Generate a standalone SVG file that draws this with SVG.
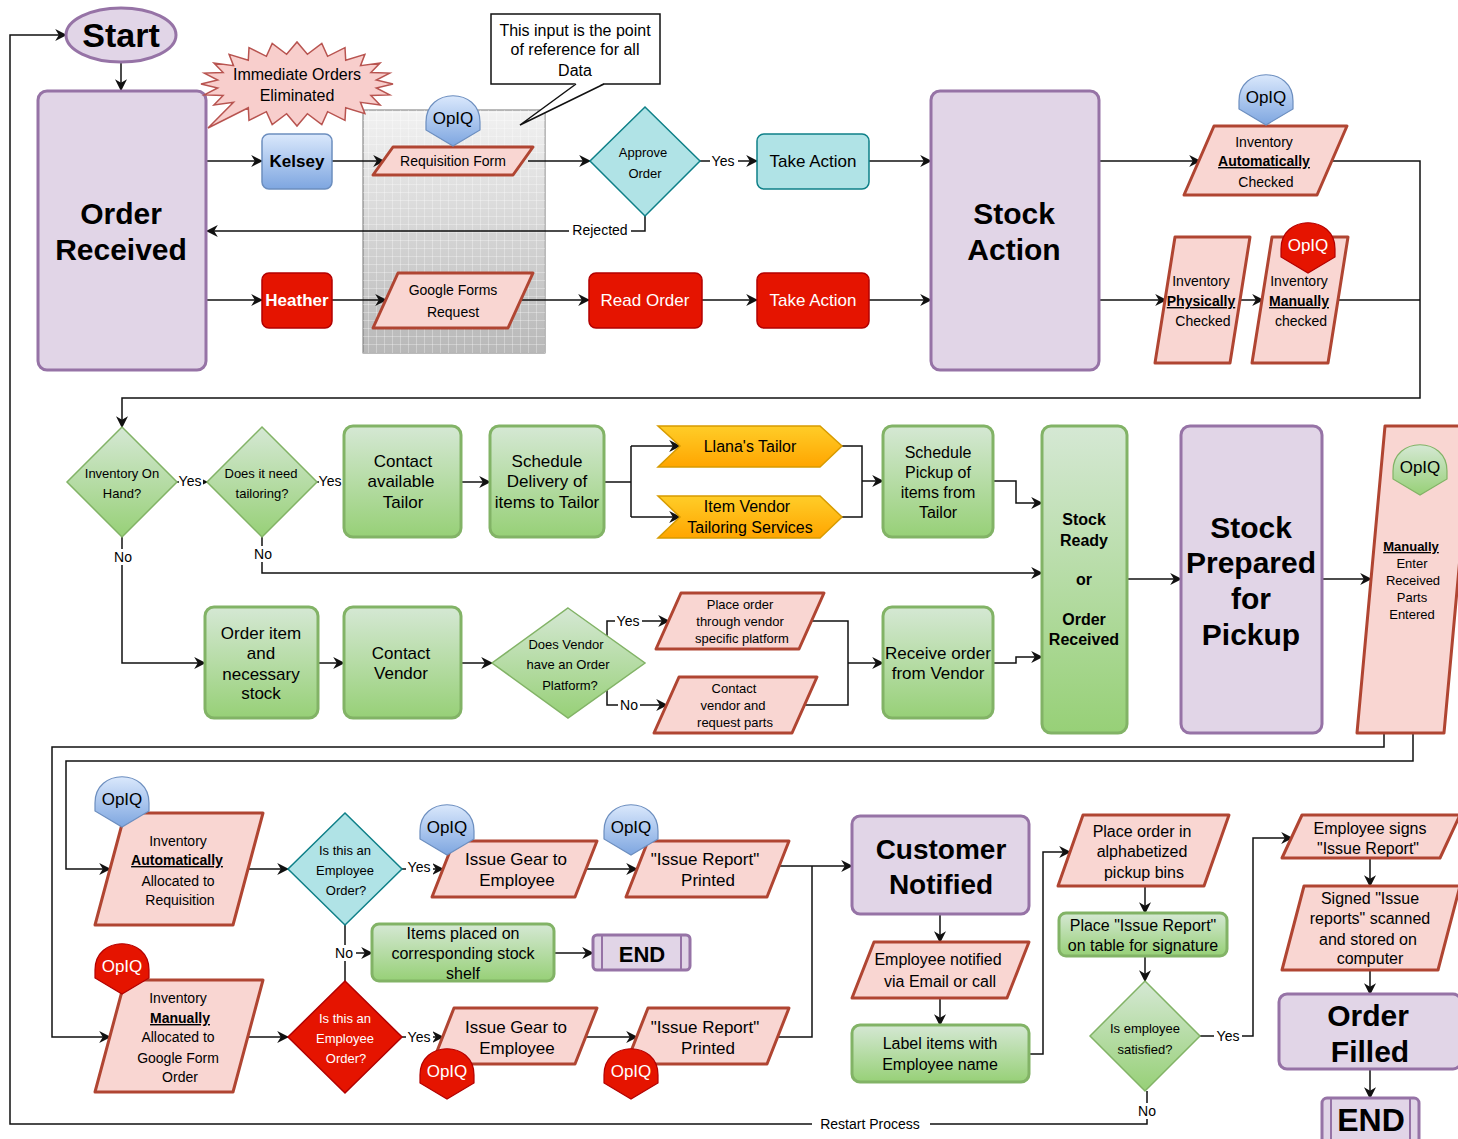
<svg xmlns="http://www.w3.org/2000/svg" xmlns:xlink="http://www.w3.org/1999/xlink" width="1458" height="1139" viewBox="0 0 1458 1139">
<defs>
<style>
.t{font-family:"Liberation Sans",Arial,sans-serif;text-anchor:middle;fill:#000}
.b{font-weight:bold}
.w{fill:#fff}
.u{text-decoration:underline;font-weight:bold}
.s13{font-size:13px}.s14{font-size:14px}.s16{font-size:16px}.s17{font-size:17px}.s22{font-size:22px}.s28{font-size:28px}.s30{font-size:30px}.s32{font-size:32px}.s34{font-size:34px}
.pur{fill:#e1d5e7;stroke:#9673a6;stroke-width:3}
.pink{fill:#f9d6d2;stroke:#b04532;stroke-width:3;stroke-linejoin:round}
.grn{fill:url(#gGreen);stroke:#82b366;stroke-width:3}
.teal{fill:#b0e3e6;stroke:#0e8088;stroke-width:1.5}
.red{fill:#e51400;stroke:#b20000;stroke-width:1.5}
.blue{fill:url(#gBlue);stroke:#6c8ebf;stroke-width:1.5}
.org{fill:url(#gOrange);stroke:#d79b00;stroke-width:1.5}
.bdB{fill:url(#gBlue);stroke:#6c8ebf;stroke-width:1.2}
.bdR{fill:#e51400;stroke:#b20000;stroke-width:1.2}
.bdG{fill:url(#gGreen);stroke:#82b366;stroke-width:1.2}
.c{fill:none;stroke:#111;stroke-width:1.5}
.ca{fill:none;stroke:#111;stroke-width:1.5;marker-end:url(#ar)}
.lb{fill:#fff}
</style>
<linearGradient id="gGreen" x1="0" y1="0" x2="0" y2="1"><stop offset="0" stop-color="#d5e8d4"/><stop offset="1" stop-color="#97d077"/></linearGradient>
<linearGradient id="gBlue" x1="0" y1="0" x2="0" y2="1"><stop offset="0" stop-color="#dae8fc"/><stop offset="1" stop-color="#7ea6e0"/></linearGradient>
<linearGradient id="gOrange" x1="0" y1="0" x2="0" y2="1"><stop offset="0" stop-color="#ffcd28"/><stop offset="1" stop-color="#ffa500"/></linearGradient>
<linearGradient id="gGray" x1="0" y1="0" x2="0" y2="1"><stop offset="0" stop-color="#f2f2f2"/><stop offset="1" stop-color="#b8b8b8"/></linearGradient>
<pattern id="grid" width="8" height="8" patternUnits="userSpaceOnUse"><path d="M8,0 L0,0 0,8" fill="none" stroke="#ffffff" stroke-opacity="0.6" stroke-width="1"/></pattern>
<marker id="ar" viewBox="0 0 10 10" refX="9" refY="5" markerWidth="12" markerHeight="12" markerUnits="userSpaceOnUse" orient="auto"><path d="M0,0 L10,5 L0,10 L3,5 Z" fill="#111"/></marker>
<path id="badge" d="M-27,4 C-27,-31 27,-31 27,4 L27,12 L0,28 L-27,12 Z"/>
</defs>
<rect width="1458" height="1139" fill="#fff"/>

<g id="grid-box">
<rect x="363" y="110" width="182" height="243" fill="url(#gGray)" stroke="#777" stroke-width="1"/>
<rect x="363" y="110" width="182" height="243" fill="url(#grid)"/>
</g>

<g id="connectors">
<path class="ca" d="M121,62 V90"/>
<path class="ca" d="M206,161 H262"/>
<path class="ca" d="M332,161 H384"/>
<path class="ca" d="M528,161 H590"/>
<path class="ca" d="M700,161 H757"/>
<path class="ca" d="M869,161 H931"/>
<path class="ca" d="M645,216 V231 H207"/>
<path class="ca" d="M206,300 H262"/>
<path class="ca" d="M332,300 H386"/>
<path class="ca" d="M521,300 H589"/>
<path class="ca" d="M702,300 H757"/>
<path class="ca" d="M869,300 H931"/>
<path class="ca" d="M1099,161 H1200"/>
<path class="ca" d="M1099,300 H1166"/>
<path class="ca" d="M1240,300 H1263"/>
<path class="ca" d="M1333,161 H1420 V398 H122 V427"/>
<path class="c" d="M1338,300 H1420"/>
<path class="ca" d="M177,482 H207"/>
<path class="ca" d="M317,482 H344"/>
<path class="ca" d="M461,482 H490"/>
<path class="c" d="M604,482 H631 M631,446 V517"/>
<path class="ca" d="M631,446 H680"/>
<path class="ca" d="M631,517 H680"/>
<path class="c" d="M842,446 H862 V517 H842"/>
<path class="ca" d="M862,481 H883"/>
<path class="ca" d="M993,481 H1016 V503 H1042"/>
<path class="ca" d="M262,537 V573 H1042"/>
<path class="ca" d="M122,537 V663 H205"/>
<path class="ca" d="M318,663 H344"/>
<path class="ca" d="M461,663 H492"/>
<path class="ca" d="M607,640 V621 H669"/>
<path class="ca" d="M607,686 V705 H667"/>
<path class="c" d="M812,621 H848 V705 H805"/>
<path class="ca" d="M848,663 H883"/>
<path class="ca" d="M993,663 H1016 V657 H1042"/>
<path class="ca" d="M1127,579 H1181"/>
<path class="ca" d="M1322,579 H1371"/>
<path class="ca" d="M1384,733 V747 H52 V1037 H110"/>
<path class="ca" d="M1413,733 V761 H66 V869 H110"/>
<path class="ca" d="M248,869 H288"/>
<path class="ca" d="M248,1037 H288"/>
<path class="ca" d="M402,869 H443"/>
<path class="ca" d="M402,1037 H443"/>
<path class="ca" d="M586,869 H637"/>
<path class="ca" d="M586,1037 H637"/>
<path class="ca" d="M778,866 H852"/>
<path class="c" d="M778,1037 H812 V866"/>
<path class="c" d="M345,925 V981"/>
<path class="ca" d="M345,953 H372"/>
<path class="ca" d="M554,953 H593"/>
<path class="ca" d="M940,914 V942"/>
<path class="ca" d="M940,998 V1025"/>
<path class="ca" d="M1029,1054 H1043 V852 H1070"/>
<path class="ca" d="M1145,886 V913"/>
<path class="ca" d="M1145,956 V981"/>
<path class="ca" d="M1200,1036 H1253 V838 H1292"/>
<path class="ca" d="M1370,858 V886"/>
<path class="ca" d="M1370,970 V994"/>
<path class="ca" d="M1370,1069 V1098"/>
<path class="ca" d="M1147,1091 V1124 H10 V35 H66"/>
<rect class="lb" x="710" y="153" width="28" height="16"/><text class="t s14" x="723" y="166">Yes</text>
<rect class="lb" x="569" y="222" width="62" height="16"/><text class="t s14" x="600" y="235">Rejected</text>
<rect class="lb" x="179" y="474" width="24" height="16"/><text class="t s14" x="190" y="486">Yes</text>
<rect class="lb" x="319" y="474" width="24" height="16"/><text class="t s14" x="330" y="486">Yes</text>
<rect class="lb" x="112" y="549" width="22" height="16"/><text class="t s14" x="123" y="562">No</text>
<rect class="lb" x="252" y="546" width="22" height="16"/><text class="t s14" x="263" y="559">No</text>
<rect class="lb" x="615" y="613" width="27" height="16"/><text class="t s14" x="628" y="626">Yes</text>
<rect class="lb" x="618" y="697" width="22" height="16"/><text class="t s14" x="629" y="710">No</text>
<rect class="lb" x="406" y="860" width="27" height="16"/><text class="t s14" x="419" y="872">Yes</text>
<rect class="lb" x="406" y="1030" width="27" height="16"/><text class="t s14" x="419" y="1042">Yes</text>
<rect class="lb" x="332" y="945" width="24" height="16"/><text class="t s14" x="344" y="958">No</text>
<rect class="lb" x="1214" y="1028" width="28" height="16"/><text class="t s14" x="1228" y="1041">Yes</text>
<rect class="lb" x="1136" y="1103" width="22" height="16"/><text class="t s14" x="1147" y="1116">No</text>
<rect class="lb" x="812" y="1116" width="118" height="16"/><text class="t s14" x="870" y="1129">Restart Process</text>
</g>

<g id="start">
<ellipse class="pur" cx="121" cy="35" rx="55" ry="27"/>
<text class="t b s34" x="121" y="47">Start</text>
</g>

<g id="order-received">
<rect class="pur" x="38" y="91" width="168" height="279" rx="9"/>
<text class="t b s30" x="121" y="224">Order</text>
<text class="t b s30" x="121" y="260">Received</text>
</g>

<g id="immediate-orders">
<polygon fill="#f8cecc" stroke="#b85450" stroke-width="1.5" points="393,84 376.3,87.9 389.7,94.9 370.9,95.5 380.1,105 360.5,102.3 364.9,113.7 345.7,107.8 345,120.4 327.6,111.7 321.8,124.6 307.4,113.7 297,126 286.6,113.7 272.2,124.6 266.4,111.7 249,120.4 248.3,107.8 208,128 233.5,102.3 213.9,105 223.1,95.5 204.3,94.9 217.7,87.9 201,84 217.7,80.1 204.3,73.1 223.1,72.5 213.9,63 233.5,65.7 229.1,54.3 248.3,60.2 249,47.6 266.4,56.3 272.2,43.4 286.6,54.3 297,42 307.4,54.3 321.8,43.4 327.6,56.3 345,47.6 345.7,60.2 364.9,54.3 360.5,65.7 380.1,63 370.9,72.5 389.7,73.1 376.3,80.1"/>
<text class="t s16" x="297" y="80">Immediate Orders</text>
<text class="t s16" x="297" y="101">Eliminated</text>
</g>

<g id="callout">
<rect x="491" y="14" width="169" height="70" fill="#fff" stroke="#111" stroke-width="1.5"/>
<polygon points="576,83 520,125 604,83" fill="#fff"/>
<path d="M576,84 L520,125 L604,84" fill="none" stroke="#111" stroke-width="1.5"/>
<text class="t s16" x="575" y="36">This input is the point</text>
<text class="t s16" x="575" y="55">of reference for all</text>
<text class="t s16" x="575" y="76">Data</text>
</g>

<g id="kelsey">
<rect class="blue" x="262" y="134" width="70" height="55" rx="7"/>
<text class="t b s17" x="297" y="167">Kelsey</text>
</g>
<g id="heather">
<rect class="red" x="262" y="273" width="70" height="55" rx="7"/>
<text class="t b s17 w" x="297" y="306">Heather</text>
</g>

<g id="requisition-form">
<polygon class="pink" points="393,147 533,147 513,175 373,175"/>
<text class="t s14" x="453" y="166">Requisition Form</text>
</g>
<g id="google-forms">
<polygon class="pink" points="398,273 533,273 508,328 373,328"/>
<text class="t s14" x="453" y="295">Google Forms</text>
<text class="t s14" x="453" y="317">Request</text>
</g>

<g id="approve-order">
<polygon class="teal" points="645,107 700,161 645,216 590,161"/>
<text class="t s13" x="643" y="157">Approve</text>
<text class="t s13" x="645" y="178">Order</text>
</g>
<g id="take-action-1">
<rect class="teal" x="757" y="134" width="112" height="55" rx="7"/>
<text class="t s17" x="813" y="167">Take Action</text>
</g>
<g id="read-order">
<rect class="red" x="589" y="273" width="113" height="55" rx="7"/>
<text class="t s17 w" x="645" y="306">Read Order</text>
</g>
<g id="take-action-2">
<rect class="red" x="757" y="273" width="112" height="55" rx="7"/>
<text class="t s17 w" x="813" y="306">Take Action</text>
</g>

<g id="stock-action">
<rect class="pur" x="931" y="91" width="168" height="279" rx="9"/>
<text class="t b s30" x="1014" y="224">Stock</text>
<text class="t b s30" x="1014" y="260">Action</text>
</g>

<g id="inv-auto-checked">
<polygon class="pink" points="1214,126 1347,126 1317,195 1184,195"/>
<text class="t s14" x="1264" y="147">Inventory</text>
<text class="t s14 u" x="1264" y="166">Automatically</text>
<text class="t s14" x="1266" y="187">Checked</text>
</g>
<g id="inv-physically">
<polygon class="pink" points="1175,237 1250,237 1230,363 1155,363"/>
<text class="t s14" x="1201" y="286">Inventory</text>
<text class="t s14 u" x="1201" y="306">Physically</text>
<text class="t s14" x="1203" y="326">Checked</text>
</g>
<g id="inv-manually-checked">
<polygon class="pink" points="1272,237 1348,237 1328,363 1252,363"/>
<text class="t s14" x="1299" y="286">Inventory</text>
<text class="t s14 u" x="1299" y="306">Manually</text>
<text class="t s14" x="1301" y="326">checked</text>
</g>

<g id="inventory-on-hand">
<polygon class="grn" style="stroke-width:1.5" points="122,427 177,482 122,537 67,482"/>
<text class="t s13" x="122" y="478">Inventory On</text>
<text class="t s13" x="122" y="498">Hand?</text>
</g>
<g id="need-tailoring">
<polygon class="grn" style="stroke-width:1.5" points="262,427 317,482 262,537 207,482"/>
<text class="t s13" x="261" y="478">Does it need</text>
<text class="t s13" x="262" y="498">tailoring?</text>
</g>
<g id="contact-tailor">
<rect class="grn" x="344" y="426" width="117" height="111" rx="9"/>
<text class="t s17" x="403" y="467">Contact</text>
<text class="t s17" x="401" y="487">available</text>
<text class="t s17" x="403" y="508">Tailor</text>
</g>
<g id="schedule-delivery">
<rect class="grn" x="490" y="426" width="114" height="111" rx="9"/>
<text class="t s17" x="547" y="467">Schedule</text>
<text class="t s17" x="547" y="487">Delivery of</text>
<text class="t s17" x="547" y="508">items to Tailor</text>
</g>
<g id="llanas-tailor">
<polygon class="org" points="658,426 820,426 842,446 820,467 658,467 680,446"/>
<text class="t s16" x="750" y="452">Llana's Tailor</text>
</g>
<g id="item-vendor">
<polygon class="org" points="658,496 820,496 842,517 820,538 658,538 680,517"/>
<text class="t s16" x="747" y="512">Item Vendor</text>
<text class="t s16" x="750" y="533">Tailoring Services</text>
</g>
<g id="schedule-pickup">
<rect class="grn" x="883" y="426" width="110" height="111" rx="9"/>
<text class="t s16" x="938" y="458">Schedule</text>
<text class="t s16" x="938" y="478">Pickup of</text>
<text class="t s16" x="938" y="498">items from</text>
<text class="t s16" x="938" y="518">Tailor</text>
</g>
<g id="stock-ready">
<rect class="grn" x="1042" y="426" width="85" height="307" rx="9"/>
<text class="t b s16" x="1084" y="525">Stock</text>
<text class="t b s16" x="1084" y="546">Ready</text>
<text class="t b s16" x="1084" y="585">or</text>
<text class="t b s16" x="1084" y="625">Order</text>
<text class="t b s16" x="1084" y="645">Received</text>
</g>
<g id="order-item">
<rect class="grn" x="205" y="607" width="113" height="111" rx="9"/>
<text class="t s17" x="261" y="639">Order item</text>
<text class="t s17" x="261" y="659">and</text>
<text class="t s17" x="261" y="680">necessary</text>
<text class="t s17" x="261" y="699">stock</text>
</g>
<g id="contact-vendor">
<rect class="grn" x="344" y="607" width="117" height="111" rx="9"/>
<text class="t s17" x="401" y="659">Contact</text>
<text class="t s17" x="401" y="679">Vendor</text>
</g>
<g id="vendor-platform">
<polygon class="grn" style="stroke-width:1.5" points="568,608 645,663 568,718 492,663"/>
<text class="t s13" x="566" y="649">Does Vendor</text>
<text class="t s13" x="568" y="669">have an Order</text>
<text class="t s13" x="570" y="690">Platform?</text>
</g>
<g id="place-order-vendor">
<polygon class="pink" points="681,593 824,593 799,649 656,649"/>
<text class="t s13" x="740" y="609">Place order</text>
<text class="t s13" x="740" y="626">through vendor</text>
<text class="t s13" x="742" y="643">specific platform</text>
</g>
<g id="contact-vendor-parts">
<polygon class="pink" points="679,677 817,677 792,733 654,733"/>
<text class="t s13" x="734" y="693">Contact</text>
<text class="t s13" x="733" y="710">vendor and</text>
<text class="t s13" x="735" y="727">request parts</text>
</g>
<g id="receive-order">
<rect class="grn" x="883" y="607" width="110" height="111" rx="9"/>
<text class="t s17" x="938" y="659">Receive order</text>
<text class="t s17" x="938" y="679">from Vendor</text>
</g>
<g id="stock-prepared">
<rect class="pur" x="1181" y="426" width="141" height="307" rx="9"/>
<text class="t b s30" x="1251" y="538">Stock</text>
<text class="t b s30" x="1251" y="573">Prepared</text>
<text class="t b s30" x="1251" y="609">for</text>
<text class="t b s30" x="1251" y="645">Pickup</text>
</g>
<g id="manually-enter">
<polygon class="pink" points="1385,426 1472,426 1444,733 1357,733"/>
<text class="t s13 u" x="1411" y="551">Manually</text>
<text class="t s13" x="1412" y="568">Enter</text>
<text class="t s13" x="1413" y="585">Received</text>
<text class="t s13" x="1412" y="602">Parts</text>
<text class="t s13" x="1412" y="619">Entered</text>
</g>

<g id="inv-auto-allocated">
<polygon class="pink" points="125,813 263,813 233,925 95,925"/>
<text class="t s14" x="178" y="846">Inventory</text>
<text class="t s14 u" x="177" y="865">Automatically</text>
<text class="t s14" x="178" y="886">Allocated to</text>
<text class="t s14" x="180" y="905">Requisition</text>
</g>
<g id="inv-manual-allocated">
<polygon class="pink" points="125,980 263,980 233,1092 95,1092"/>
<text class="t s14" x="178" y="1003">Inventory</text>
<text class="t s14 u" x="180" y="1023">Manually</text>
<text class="t s14" x="178" y="1042">Allocated to</text>
<text class="t s14" x="178" y="1063">Google Form</text>
<text class="t s14" x="180" y="1082">Order</text>
</g>
<g id="employee-order-1">
<polygon class="teal" points="345,813 402,869 345,925 288,869"/>
<text class="t s13" x="345" y="855">Is this an</text>
<text class="t s13" x="345" y="875">Employee</text>
<text class="t s13" x="346" y="895">Order?</text>
</g>
<g id="employee-order-2">
<polygon class="red" points="345,981 402,1037 345,1093 288,1037"/>
<text class="t s13 w" x="345" y="1023">Is this an</text>
<text class="t s13 w" x="345" y="1043">Employee</text>
<text class="t s13 w" x="346" y="1063">Order?</text>
</g>
<g id="issue-gear-1">
<polygon class="pink" points="454,841 597,841 575,897 432,897"/>
<text class="t s17" x="516" y="865">Issue Gear to</text>
<text class="t s17" x="517" y="886">Employee</text>
</g>
<g id="issue-report-1">
<polygon class="pink" points="648,841 789,841 767,897 626,897"/>
<text class="t s17" x="705" y="865">"Issue Report"</text>
<text class="t s17" x="708" y="886">Printed</text>
</g>
<g id="issue-gear-2">
<polygon class="pink" points="454,1008 597,1008 575,1064 432,1064"/>
<text class="t s17" x="516" y="1033">Issue Gear to</text>
<text class="t s17" x="517" y="1054">Employee</text>
</g>
<g id="issue-report-2">
<polygon class="pink" points="648,1008 789,1008 767,1064 626,1064"/>
<text class="t s17" x="705" y="1033">"Issue Report"</text>
<text class="t s17" x="708" y="1054">Printed</text>
</g>
<g id="items-placed">
<rect class="grn" x="372" y="924" width="182" height="57" rx="7"/>
<text class="t s16" x="463" y="939">Items placed on</text>
<text class="t s16" x="463" y="959">corresponding stock</text>
<text class="t s16" x="463" y="979">shelf</text>
</g>
<g id="end-1">
<rect class="pur" x="593" y="935" width="97" height="35" rx="4"/>
<path d="M602,936 V969 M681,936 V969" stroke="#9673a6" stroke-width="2" fill="none"/>
<text class="t b s22" x="642" y="962">END</text>
</g>
<g id="customer-notified">
<rect class="pur" x="852" y="816" width="177" height="98" rx="8"/>
<text class="t b s28" x="941" y="859">Customer</text>
<text class="t b s28" x="941" y="894">Notified</text>
</g>
<g id="employee-notified">
<polygon class="pink" points="874,942 1029,942 1007,998 852,998"/>
<text class="t s16" x="938" y="965">Employee notified</text>
<text class="t s16" x="940" y="987">via Email or call</text>
</g>
<g id="label-items">
<rect class="grn" x="852" y="1025" width="177" height="57" rx="8"/>
<text class="t s16" x="940" y="1049">Label items with</text>
<text class="t s16" x="940" y="1070">Employee name</text>
</g>
<g id="place-bins">
<polygon class="pink" points="1083,815 1229,815 1204,886 1058,886"/>
<text class="t s16" x="1142" y="837">Place order in</text>
<text class="t s16" x="1142" y="857">alphabetized</text>
<text class="t s16" x="1144" y="878">pickup bins</text>
</g>
<g id="place-issue-report">
<rect class="grn" x="1059" y="913" width="168" height="43" rx="7"/>
<text class="t s16" x="1143" y="931">Place "Issue Report"</text>
<text class="t s16" x="1143" y="951">on table for signature</text>
</g>
<g id="employee-satisfied">
<polygon class="grn" style="stroke-width:1.5" points="1145,981 1200,1036 1145,1091 1090,1036"/>
<text class="t s13" x="1145" y="1033">Is employee</text>
<text class="t s13" x="1145" y="1054">satisfied?</text>
</g>
<g id="employee-signs">
<polygon class="pink" points="1302,815 1460,815 1440,858 1282,858"/>
<text class="t s16" x="1370" y="834">Employee signs</text>
<text class="t s16" x="1368" y="854">"Issue Report"</text>
</g>
<g id="signed-scanned">
<polygon class="pink" points="1304,886 1460,886 1438,970 1282,970"/>
<text class="t s16" x="1370" y="904">Signed "Issue</text>
<text class="t s16" x="1370" y="924">reports" scanned</text>
<text class="t s16" x="1368" y="945">and stored on</text>
<text class="t s16" x="1370" y="964">computer</text>
</g>
<g id="order-filled">
<rect class="pur" x="1279" y="994" width="182" height="75" rx="8"/>
<text class="t b s30" x="1368" y="1026">Order</text>
<text class="t b s30" x="1370" y="1062">Filled</text>
</g>
<g id="end-2">
<rect class="pur" x="1322" y="1098" width="97" height="46" rx="5"/>
<path d="M1331,1099 V1139 M1410,1099 V1139" stroke="#9673a6" stroke-width="2" fill="none"/>
<text class="t b s32" x="1371" y="1131">END</text>
</g>

<g id="opiq-badges">
<use href="#badge" class="bdB" x="453" y="118"/><text class="t s17" x="453" y="124">OpIQ</text>
<use href="#badge" class="bdB" x="1266" y="97"/><text class="t s17" x="1266" y="103">OpIQ</text>
<use href="#badge" class="bdR" x="1308" y="245"/><text class="t s17 w" x="1308" y="251">OpIQ</text>
<use href="#badge" class="bdG" x="1420" y="467"/><text class="t s17" x="1420" y="473">OpIQ</text>
<use href="#badge" class="bdB" x="122" y="799"/><text class="t s17" x="122" y="805">OpIQ</text>
<use href="#badge" class="bdR" x="122" y="966"/><text class="t s17 w" x="122" y="972">OpIQ</text>
<use href="#badge" class="bdB" x="447" y="827"/><text class="t s17" x="447" y="833">OpIQ</text>
<use href="#badge" class="bdB" x="631" y="827"/><text class="t s17" x="631" y="833">OpIQ</text>
<use href="#badge" class="bdR" x="447" y="1071"/><text class="t s17 w" x="447" y="1077">OpIQ</text>
<use href="#badge" class="bdR" x="631" y="1071"/><text class="t s17 w" x="631" y="1077">OpIQ</text>
</g>
</svg>
